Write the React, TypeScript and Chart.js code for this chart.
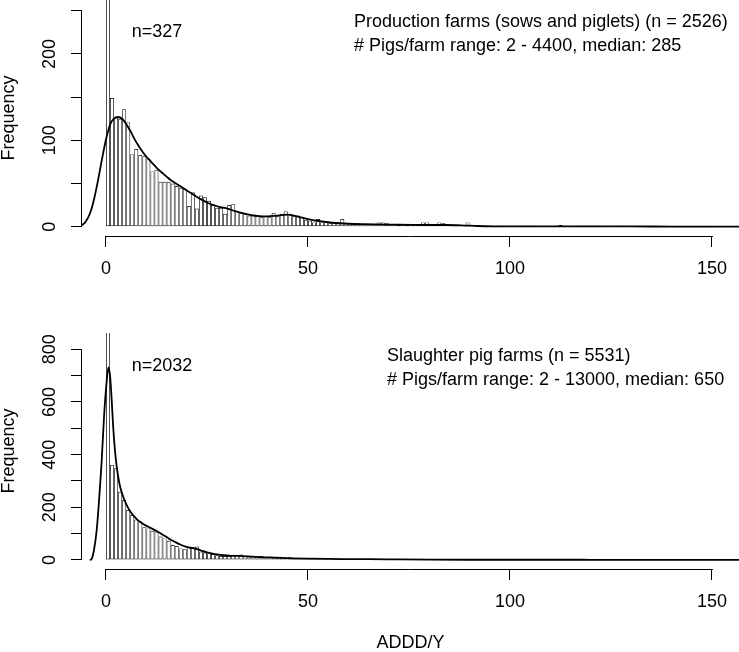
import React, { useEffect, useRef } from "react";
import { Chart, registerables } from "chart.js";

Chart.register(...registerables);

const FONT = '"Liberation Sans", Arial, Helvetica, sans-serif';

// histogram bins: [binStart + i*binWidth, binStart + (i+1)*binWidth)
const binStart = 0;
const binWidth = 1;

// Production farms (sows and piglets)
const topCounts = [
  327, 149, 126, 125, 136, 121, 84, 90, 83, 82,
  79, 64, 66, 52, 52, 52, 50, 47, 45, 44,
  24, 40, 21, 36, 34, 30, 25, 22, 22, 15,
  25, 26, 18, 16, 15, 13, 13, 13, 11, 12,
  11, 16, 12, 15, 18, 15, 12, 13, 11, 8,
  7, 5, 9, 5, 5, 4, 4, 5, 9, 4,
  4, 3, 4, 3, 3, 3, 3, 5, 5, 4,
  3, 3, 2, 3, 2, 3, 3, 2, 5, 5,
  3, 2, 5, 4, 2, 1, 2, 1, 1, 5,
  0, 1, 0, 0, 1, 0, 0, 1, 0, 0,
  1, 0, 0, 1, 1, 1, 0, 0, 0, 0,
  0, 1, 2, 1, 0, 0, 0, 1, 0, 1,
  0, 1, 0, 0, 0, 0, 1, 0, 0, 0,
  0, 0, 0, 0, 0, 0, 1, 0, 1, 0,
  1, 0, 1, 0, 1, 0, 1, 0, 1, 0,
];

// Slaughter pig farms
const bottomCounts = [
  2032, 361, 348, 259, 228, 190, 171, 154, 146, 124,
  120, 111, 108, 89, 82, 73, 57, 53, 44, 41,
  47, 48, 51, 32, 28, 25, 23, 18, 15, 15,
  15, 20, 19, 21, 15, 13, 13, 15, 15, 11,
  11, 9, 9, 9, 8, 10, 6, 6, 5, 6,
  5, 4, 5, 4, 4, 3, 4, 3, 5, 3,
  3, 2, 3, 2, 2, 3, 2, 2, 3, 2,
  4, 2, 1, 1, 1, 1, 0, 1, 0, 1,
  1, 0, 1, 0, 0, 0, 0, 0, 0, 0,
  0, 0, 0, 0, 0, 0, 0, 1, 0, 0,
  1, 0, 1, 0, 0, 1, 0, 0, 1, 0,
  1, 0, 0, 1, 0, 1, 0, 0, 1, 0,
  0, 1, 0, 0, 0, 1, 0, 0, 0, 0,
];

// kernel density curves (scaled to counts)
const topDensityX = [
  -5.94, -5, -4, -3, -2, -1, 0, 1, 2, 3, 4, 5, 6, 7, 8, 9, 10, 11, 12, 13,
  14, 15, 16, 17, 18, 19, 20, 21, 22, 23, 24, 25, 26, 27, 28, 29, 30, 32,
  34, 36, 38, 40, 42, 44, 45, 46, 48, 50, 53, 56, 60, 64, 68, 72, 76, 80,
  84, 88, 92, 96, 100, 110, 120, 130, 140, 150, 156.7,
];
const topDensityY = [
  1.6, 6, 15, 31, 53, 78, 101, 118, 125.5, 127, 125, 119, 111, 102, 94, 87, 81, 76, 71, 66,
  62, 58, 54, 51, 48, 45, 42, 39, 36, 33, 30.5, 28, 26, 24.5, 23, 22, 21, 18,
  15.5, 13.5, 12.3, 12, 12.6, 13.6, 13.9, 13.4, 11, 8.8, 6.3, 4.6, 3.4, 2.9, 2.6, 2.3, 2.1, 2,
  2, 1.6, 0.8, 0.4, 0.3, 0.3, 0.3, 0.3, 0.2, 0.2, 0.1,
];
const bottomDensityX = [
  -4, -3.6, -3, -2.3, -1.7, -1.1, -0.5, 0.2, 0.6, 1.0, 1.4, 1.8, 2.2, 2.6, 3.0,
  3.5, 4.5, 5.5, 6.5, 7.5, 8.5, 9.5, 10.5, 11.5, 12.5, 13.5, 14.5, 15.5, 16.5,
  17.5, 18.5, 19.5, 20.5, 21.5, 22.5, 23.5, 25, 27, 29, 31, 34, 38, 42, 46, 50,
  55, 60, 65, 70, 80, 90, 100, 120, 140, 156.7,
];
const bottomDensityY = [
  0, 3, 35, 114, 230, 367, 540, 683, 731, 700, 610, 500, 420, 360, 318,
  278, 230, 197, 174, 157, 144, 134, 126, 118, 110, 101, 92, 82, 73,
  65, 58, 52, 48, 45, 41, 36, 29, 22, 18, 16, 15, 11, 9, 6.5, 5,
  4, 3.5, 3, 2.5, 1.5, 1, 1, 0.8, 0.5, 0.3,
];

// axes
const xTicks = [0, 50, 100, 150];
const topYTicks = [0, 50, 100, 150, 200, 250];
const topYLabels = [0, 100, 200];
const bottomYTicks = [0, 100, 200, 300, 400, 500, 600, 700, 800];
const bottomYLabels = [0, 200, 400, 600, 800];
const xTitle = "ADDD/Y";
const yTitle = "Frequency";

// annotations (text, anchor in data units, left aligned)
const topNotes = [
  { text: "n=327", x: 6.35, y: 225.3 },
  { text: "Production farms (sows and piglets) (n = 2526)", x: 61.4, y: 236.9 },
  { text: "# Pigs/farm range: 2 - 4400, median: 285", x: 61.4, y: 209.1 },
];
const bottomNotes = [
  { text: "n=2032", x: 6.35, y: 736.6 },
  { text: "Slaughter pig farms (n = 5531)", x: 69.55, y: 774.5 },
  { text: "# Pigs/farm range: 2 - 13000, median: 650", x: 69.55, y: 683.4 },
];

type Note = { text: string; x: number; y: number };
type Panel = {
  counts: number[];
  dx: number[];
  dy: number[];
  yTicks: number[];
  yLabels: number[];
  yMin: number;
  yMax: number;
  notes: Note[];
  height: number;
  padTop: number;
  xScaleHeight: number;
  showXTitle: boolean;
};

const X_MIN = -5.94;
const X_MAX = 156.7;

function zeroPad(s: any) {
  s.paddingTop = 0;
  s.paddingBottom = 0;
  s.paddingLeft = 0;
  s.paddingRight = 0;
}

function buildConfig(p: Panel): any {
  const bars = p.counts.map((c, i) => ({ x: binStart + i * binWidth + binWidth / 2, y: c }));
  const line = p.dx.map((x, i) => ({ x, y: p.dy[i] }));

  const axisLines = {
    id: "axisLines",
    afterDraw(chart: any) {
      const { ctx, chartArea } = chart;
      const xs = chart.scales.x;
      const ys = chart.scales.y;
      ctx.save();
      ctx.strokeStyle = "#000";
      ctx.lineWidth = 1;
      ctx.beginPath();
      const yb = Math.round(chartArea.bottom) + 0.5;
      ctx.moveTo(xs.getPixelForValue(xTicks[0]), yb);
      ctx.lineTo(xs.getPixelForValue(xTicks[xTicks.length - 1]) + 1, yb);
      const xl = Math.round(chartArea.left) - 0.5;
      ctx.moveTo(xl, ys.getPixelForValue(p.yTicks[0]));
      ctx.lineTo(xl, ys.getPixelForValue(p.yTicks[p.yTicks.length - 1]));
      ctx.stroke();
      ctx.restore();
    },
  };
  const notes = {
    id: "notes",
    afterDatasetsDraw(chart: any) {
      const { ctx } = chart;
      const xs = chart.scales.x;
      const ys = chart.scales.y;
      ctx.save();
      ctx.font = `18px ${FONT}`;
      ctx.fillStyle = "#000";
      ctx.textAlign = "left";
      ctx.textBaseline = "middle";
      for (const n of p.notes) {
        ctx.fillText(n.text, xs.getPixelForValue(n.x), ys.getPixelForValue(n.y));
      }
      ctx.restore();
    },
  };

  return {
    type: "bar",
    data: {
      datasets: [
        {
          type: "line",
          data: line,
          borderColor: "#000",
          borderWidth: 1.8,
          pointRadius: 0,
          fill: false,
          cubicInterpolationMode: "monotone",
          order: 0,
          clip: 0,
        },
        {
          type: "bar",
          data: bars,
          backgroundColor: "rgba(255,255,255,0)",
          borderColor: "#000",
          borderWidth: 0.7,
          borderSkipped: false,
          inflateAmount: 0,
          barPercentage: 1,
          categoryPercentage: 1,
          order: 1,
          clip: 0,
        },
      ],
    },
    options: {
      animation: false,
      responsive: false,
      devicePixelRatio: 1,
      layout: { padding: { top: p.padTop, left: 0, right: 0, bottom: 0 } },
      plugins: { legend: { display: false }, tooltip: { enabled: false } },
      scales: {
        x: {
          type: "linear",
          min: X_MIN,
          max: X_MAX,
          offset: false,
          afterBuildTicks: (s: any) => {
            s.ticks = xTicks.map((v) => ({ value: v }));
          },
          afterFit: (s: any) => {
            s.height = p.xScaleHeight;
            zeroPad(s);
          },
          border: { display: false },
          grid: {
            drawOnChartArea: false,
            drawTicks: true,
            tickLength: 11,
            color: "#000",
            lineWidth: 1,
            offset: false,
          },
          ticks: {
            autoSkip: false,
            maxRotation: 0,
            minRotation: 0,
            padding: 11,
            color: "#000",
            font: { family: FONT, size: 18 },
            callback: (v: any) => String(v),
          },
          title: {
            display: p.showXTitle,
            text: xTitle,
            color: "#000",
            font: { family: FONT, size: 18, lineHeight: 1 },
            padding: { top: 0, bottom: 0 },
          },
        },
        y: {
          type: "linear",
          min: p.yMin,
          max: p.yMax,
          afterBuildTicks: (s: any) => {
            s.ticks = p.yTicks.map((v) => ({ value: v }));
          },
          afterFit: (s: any) => {
            s.width = 82;
            zeroPad(s);
          },
          border: { display: false },
          grid: {
            drawOnChartArea: false,
            drawTicks: true,
            tickLength: 11,
            color: "#000",
            lineWidth: 1,
          },
          ticks: {
            autoSkip: false,
            minRotation: 90,
            maxRotation: 90,
            crossAlign: "center",
            padding: 6,
            color: "#000",
            font: { family: FONT, size: 18 },
            callback: (v: any) => (p.yLabels.includes(Number(v)) ? String(v) : ""),
          },
          title: {
            display: true,
            text: yTitle,
            color: "#000",
            font: { family: FONT, size: 18, lineHeight: 1 },
            padding: { top: 0, bottom: 0 },
          },
        },
      },
    },
    plugins: [axisLines, notes],
  };
}

const topPanel: Panel = {
  counts: topCounts,
  dx: topDensityX,
  dy: topDensityY,
  yTicks: topYTicks,
  yLabels: topYLabels,
  yMin: -10.76,
  yMax: 262.4,
  notes: topNotes,
  height: 300,
  padTop: 0,
  xScaleHeight: 64,
  showXTitle: false,
};

const bottomPanel: Panel = {
  counts: bottomCounts,
  dx: bottomDensityX,
  dy: bottomDensityY,
  yTicks: bottomYTicks,
  yLabels: bottomYLabels,
  yMin: -34.2,
  yMax: 861.9,
  notes: bottomNotes,
  height: 332,
  padTop: 13,
  xScaleHeight: 83,
  showXTitle: true,
};

function PanelChart({ panel, top }: { panel: Panel; top: number }) {
  const ref = useRef<HTMLCanvasElement | null>(null);
  useEffect(() => {
    if (!ref.current) return;
    const chart = new Chart(ref.current, buildConfig(panel));
    return () => chart.destroy();
  }, [panel]);
  return (
    <canvas
      ref={ref}
      width={739}
      height={panel.height}
      style={{ position: "absolute", left: 0, top, width: 739, height: panel.height, display: "block" }}
    />
  );
}

export default function App() {
  return (
    <div
      style={{
        position: "fixed",
        left: 0,
        top: 0,
        width: 739,
        height: 652,
        background: "#fff",
        overflow: "hidden",
      }}
    >
      <PanelChart panel={topPanel} top={0} />
      <PanelChart panel={bottomPanel} top={320} />
    </div>
  );
}
